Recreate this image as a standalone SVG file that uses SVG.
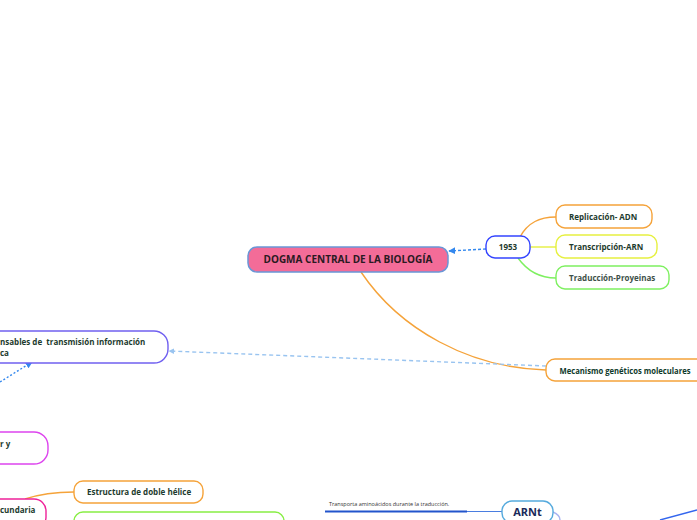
<svg xmlns="http://www.w3.org/2000/svg" width="697" height="520" viewBox="0 0 697 520">
<defs>
<style>
.t{font-family:"Open Sans","Noto Sans",sans-serif;font-weight:700;font-size:8px;fill:#1d3b2e;white-space:pre}
.box{fill:#fff;stroke-width:1.4}
.c{fill:none;stroke-width:1.4}
</style>
<marker id="ah" viewBox="0 0 10 10" refX="9" refY="5" markerWidth="5" markerHeight="5" orient="auto"><path d="M0,0L10,5L0,10z" fill="#3388ee"/></marker>
<marker id="ah2" viewBox="0 0 10 10" refX="9" refY="5" markerWidth="4" markerHeight="4" orient="auto"><path d="M0,0L10,5L0,10z" fill="#99c4f0"/></marker>
</defs>
<g id="connectors">
<path class="c" d="M486,249 L449,251" stroke="#3388ee" stroke-dasharray="3,2" marker-end="url(#ah)"/>
<path class="c" d="M520,237 C528,222 540,217 556,217" stroke="#f5a33a"/>
<path class="c" d="M530,247 L556,247" stroke="#e6f040"/>
<path class="c" d="M518,258 C528,272 540,278 556,278" stroke="#7ef060"/>
<path class="c" d="M361,272 C400,330 470,368 546,370" stroke="#f5a33a"/>
<path class="c" d="M546,366 L169,351" stroke="#99c4f0" stroke-dasharray="4,3" marker-end="url(#ah2)"/>
<path class="c" d="M0,382 L32,362" stroke="#3388ee" stroke-dasharray="2,2" marker-end="url(#ah)"/>
<path class="c" d="M25,499 C40,494 55,492 74,492" stroke="#f5a33a"/>
<path d="M325,511.5 L467,511.5" stroke="#2255cc" stroke-width="2" fill="none"/>
<path d="M467,511.5 L502,511.5" stroke="#4a7de0" stroke-width="1.2" fill="none"/>
<path class="c" d="M553,512 C558,514 560,517 560,520" stroke="#aab4f0"/>
<path class="c" d="M660,520 L697,510" stroke="#3366ee"/>
</g>
<g id="main">
<rect x="248" y="247" width="200" height="25" rx="9" fill="#f36c98" stroke="#6a96d6" stroke-width="1.5"/>
<text x="348" y="263" text-anchor="middle" style="font-family:'Open Sans','Noto Sans',sans-serif;font-weight:700;font-size:10px;fill:#2a1a22">DOGMA CENTRAL DE LA BIOLOGÍA</text>
</g>
<g id="n1953">
<rect class="box" x="486" y="236" width="44" height="22" rx="9" stroke="#3344ff"/>
<text class="t" x="508" y="250" text-anchor="middle">1953</text>
</g>
<g id="replicacion">
<rect class="box" x="556" y="205" width="96" height="23" rx="9" stroke="#f5a33a"/>
<text class="t" x="569" y="219.5">Replicación- ADN</text>
</g>
<g id="transcripcion">
<rect class="box" x="556" y="235" width="101" height="23" rx="9" stroke="#e6f040"/>
<text class="t" x="569" y="249.5">Transcripción-ARN</text>
</g>
<g id="traduccion">
<rect class="box" x="556" y="266" width="113" height="23" rx="9" stroke="#7ef060"/>
<text class="t" x="569" y="280.5" style="fill:#3d5048">Traducción-Proyeinas</text>
</g>
<g id="mecanismo">
<rect class="box" x="546" y="359" width="160" height="22" rx="9" stroke="#f5a33a"/>
<text class="t" x="559.5" y="373.5" style="font-size:8.5px;fill:#0f3a2c" textLength="131" lengthAdjust="spacingAndGlyphs">Mecanismo genéticos moleculares</text>
</g>
<g id="responsables">
<rect class="box" x="-40" y="331" width="208" height="32" rx="14" stroke="#7060f0"/>
<text class="t" x="0" y="344.5">nsables de  transmisión información</text>
<text class="t" x="0" y="355.5">ca</text>
</g>
<g id="magenta">
<rect class="box" x="-40" y="432" width="88" height="32" rx="14" stroke="#dd44ee"/>
<text class="t" x="0" y="447">r y</text>
</g>
<g id="secundaria">
<rect class="box" x="-40" y="499" width="86" height="30" rx="12" stroke="#ee2299"/>
<text class="t" x="0" y="513">cundaria</text>
</g>
<g id="estructura">
<rect class="box" x="74" y="481" width="129" height="22" rx="9" stroke="#f5a33a"/>
<text class="t" x="87" y="495">Estructura de doble hélice</text>
</g>
<g id="verde">
<rect class="box" x="74" y="512" width="210" height="22" rx="9" stroke="#88ee44"/>
</g>
<g id="transporta">
<text x="329" y="506" style="font-family:'Open Sans','Noto Sans',sans-serif;font-size:5.5px;fill:#333">Transporta aminoácidos durante la traducción.</text>
</g>
<g id="arnt">
<rect class="box" x="502" y="501" width="51" height="22" rx="10" stroke="#55aadd"/>
<text x="527.5" y="516" text-anchor="middle" style="font-family:'Open Sans','Noto Sans',sans-serif;font-weight:700;font-size:11px;fill:#1a2a5a">ARNt</text>
</g>
</svg>
